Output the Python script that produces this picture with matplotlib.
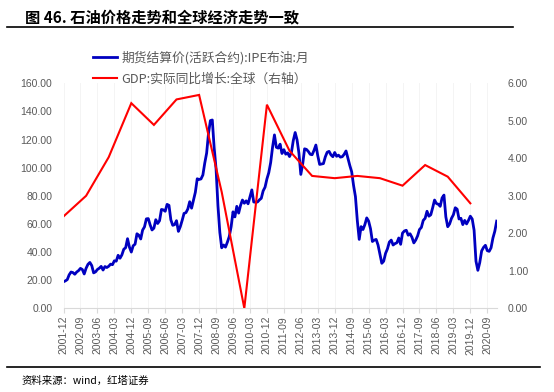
import numpy as np
import matplotlib.pyplot as plt
from matplotlib.lines import Line2D

plt.rcParams['font.family'] = ['Noto Sans CJK SC', 'DejaVu Sans']

# IPE Brent, monthly, 2001-12 .. 2021-02
brent = [
    18.9,
    19.5, 20.4, 23.8, 25.8, 25.4, 24.2, 25.8, 26.8, 28.4, 27.6, 24.4, 28.5,
    31.3, 32.6, 30.4, 25.2, 25.9, 27.6, 28.5, 29.8, 27.2, 29.7, 29.0, 29.9,
    31.4, 31.0, 33.8, 33.5, 37.7, 35.6, 38.0, 42.0, 43.1, 49.5, 43.5, 40.0,
    44.5, 45.6, 53.0, 52.0, 49.3, 55.6, 57.9, 63.6, 63.8, 59.3, 55.7, 57.0,
    63.0, 60.3, 62.3, 70.3, 70.0, 69.0, 73.9, 73.2, 62.9, 59.0, 59.5, 62.3,
    54.7, 58.0, 62.5, 67.5, 68.0, 70.6, 75.8, 71.2, 77.0, 82.5, 92.1, 91.6,
    92.0, 94.8, 103.3, 110.4, 124.6, 133.5, 133.9, 114.0, 99.1, 73.0, 54.0, 43.0,
    45.0, 43.5, 47.0, 51.0, 58.0, 68.6, 65.0, 72.5, 67.7, 73.2, 77.0, 74.7,
    76.4, 74.3, 79.3, 84.2, 75.6, 75.4, 75.6, 77.1, 78.2, 83.5, 86.1, 92.0,
    96.5, 103.7, 114.6, 123.3, 114.5, 113.9, 116.7, 110.1, 112.8, 109.6, 110.5, 107.9,
    110.7, 119.3, 125.0, 119.8, 110.3, 95.2, 102.6, 113.4, 113.0, 111.5, 109.5, 109.2,
    112.3, 116.1, 108.5, 102.3, 102.6, 102.9, 107.7, 111.0, 111.6, 109.1, 107.8, 110.8,
    108.1, 108.9, 107.5, 107.8, 109.5, 111.9, 106.8, 101.6, 97.1, 87.4, 79.4, 62.3,
    49.0, 58.1, 56.0, 59.5, 64.3, 62.0, 56.6, 47.5, 48.5, 49.0, 45.0, 38.5,
    32.0, 33.5, 39.1, 42.3, 47.1, 48.5, 45.0, 46.0, 46.6, 50.0, 45.5, 53.5,
    55.0, 55.5, 52.0, 53.0, 50.5, 46.5, 48.5, 51.5, 56.0, 57.5, 62.5, 64.0,
    69.0, 65.5, 66.5, 71.5, 77.0, 74.5, 74.0, 72.5, 78.5, 80.5, 65.0, 58.0,
    60.0, 64.0, 66.5, 71.5, 70.5, 63.5, 64.0, 59.5, 62.5, 60.0, 62.5, 65.5,
    63.5, 55.5, 33.5, 27.0, 32.5, 40.8, 43.3, 44.8, 41.0, 40.5, 43.0, 50.0,
    54.8, 62.0,
]

# global real GDP growth, plotted at December of each year 2001..2019
gdp = [2.45, 3.0, 4.03, 5.47, 4.89, 5.57, 5.69, 3.1, 0.0, 5.43,
       4.2, 3.53, 3.47, 3.53, 3.47, 3.27, 3.82, 3.51, 2.80]

def month_label(i):
    y = 2001 + (11 + i) // 12
    m = (11 + i) % 12 + 1
    return f"{y}-{m:02d}"

x_blue = np.arange(len(brent))
x_red = np.arange(len(gdp)) * 12
tick_pos = np.arange(0, len(brent), 9)
tick_lab = [month_label(i) for i in tick_pos]

W, H = 554, 392
fig = plt.figure(figsize=(W / 100, H / 100), dpi=100)
ax = fig.add_axes([63.5 / W, (H - 308.3) / H, (496.7 - 63.5) / W, 225 / H])
ax2 = ax.twinx()

blue_line, = ax.plot(x_blue, brent, color='#0000C0', lw=2.0, solid_joinstyle='round')
red_line, = ax2.plot(x_red, gdp, color='#FF0000', lw=1.5, solid_joinstyle='miter')

ax.set_xlim(0, len(brent) - 1)
ax.set_ylim(0, 160)
ax2.set_ylim(0, 6)
ax.set_yticks(np.arange(0, 161, 20))
ax2.set_yticks(np.arange(0, 7, 1))
ax.set_yticklabels([f"{v:.2f}" for v in np.arange(0, 161, 20)])
ax2.set_yticklabels([f"{v:.2f}" for v in np.arange(0, 7, 1)])
ax.set_xticks(tick_pos)
ax.set_xticklabels(tick_lab, rotation=90)
ax.grid(axis='x', color='#f2f2f2', lw=0.6)

for a in (ax, ax2):
    for s in a.spines.values():
        s.set_visible(False)
ax.spines['bottom'].set_visible(True)
ax.spines['bottom'].set_color('#d9d9d9')
ax.tick_params(axis='x', length=3.5, color='#d9d9d9', pad=2, labelcolor='#595959')
ax.tick_params(axis='y', length=0, pad=8, labelcolor='#595959')
ax2.tick_params(axis='y', length=0, pad=8, labelcolor='#595959')
for lab in ax.get_xticklabels() + ax.get_yticklabels() + ax2.get_yticklabels():
    lab.set_fontfamily('Liberation Sans')
    lab.set_fontsize(7.5)

# legend
leg = fig.legend([blue_line, red_line],
                 ['期货结算价(活跃合约):IPE布油:月', 'GDP:实际同比增长:全球（右轴）'],
                 loc='upper left', bbox_to_anchor=(93 / W, 1 - 51 / H),
                 frameon=False, handlelength=1.9, handletextpad=0.35,
                 labelspacing=0.62, borderpad=0, borderaxespad=0,
                 prop={'size': 9.2})
for t in leg.get_texts():
    t.set_color('#595959')

# title, rules, source
fig.text(25 / W, 1 - 17 / H, '图 46. 石油价格走势和全球经济走势一致',
         fontsize=11, fontweight='bold', va='center', ha='left', color='black')
fig.add_artist(Line2D([7 / W, 513 / W], [1 - 27.3 / H] * 2, color='black', lw=1.2))
fig.add_artist(Line2D([7 / W, 540 / W], [1 - 366.7 / H] * 2, color='black', lw=1.2))
fig.text(22 / W, 1 - 381 / H, '资料来源：wind，红塔证券', fontsize=7.5,
         va='center', ha='left', color='black')

fig.savefig('out.png', dpi=100)
